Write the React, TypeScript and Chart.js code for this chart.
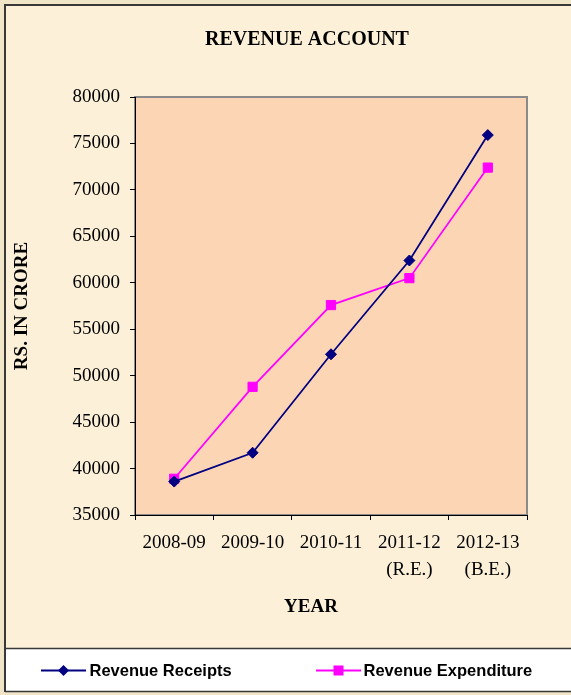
import React, { useEffect, useRef } from 'react';
import { Chart, registerables } from 'chart.js';

Chart.register(...registerables);

// ---- data ----
const years = ['2008-09', '2009-10', '2010-11', '2011-12', '2012-13'];
const yearNotes = ['', '', '', '(R.E.)', '(B.E.)'];
const revenueReceipts = [38600, 41700, 52300, 62400, 75900];
const revenueExpenditure = [38900, 48800, 57600, 60500, 72400];
const yMin = 35000;
const yMax = 80000;
const yStep = 5000;
const chartTitle = 'REVENUE ACCOUNT';
const yTitle = 'RS. IN CRORE';
const xTitle = 'YEAR';
const seriesNames = ['Revenue Receipts', 'Revenue Expenditure'];

const SERIF = '"Liberation Serif", "Times New Roman", serif';
const SANS = '"Liberation Sans", Arial, sans-serif';

const W = 571;
const H = 695;

const decorPlugin = {
  id: 'decor',
  beforeDraw(chart: any) {
    const { ctx, chartArea: a, width } = chart;
    ctx.save();
    ctx.fillStyle = '#F1E5C8';
    ctx.fillRect(0, 0, width, H);
    ctx.fillStyle = '#FCF1D8';
    ctx.fillRect(5, 5, width - 5, 643);
    ctx.fillStyle = '#FFFFFF';
    ctx.fillRect(5, 648, width - 5, 44);
    ctx.strokeStyle = '#383838';
    ctx.lineWidth = 2;
    ctx.beginPath();
    ctx.moveTo(5, 692);
    ctx.lineTo(5, 5);
    ctx.lineTo(width, 5);
    ctx.stroke();
    ctx.lineWidth = 1.5;
    ctx.beginPath();
    ctx.moveTo(5, 648.5);
    ctx.lineTo(width, 648.5);
    ctx.moveTo(5, 691.5);
    ctx.lineTo(width, 691.5);
    ctx.stroke();
    ctx.fillStyle = '#FCD5B4';
    ctx.fillRect(a.left, a.top, a.right - a.left, a.bottom - a.top);
    ctx.strokeStyle = '#8A8A8A';
    ctx.lineWidth = 2;
    ctx.strokeRect(a.left, a.top, a.right - a.left, a.bottom - a.top);
    ctx.fillStyle = '#000';
    ctx.textAlign = 'center';
    ctx.textBaseline = 'middle';
    ctx.font = `bold 20px ${SERIF}`;
    ctx.fillText(chartTitle, 307, 40);
    ctx.font = `bold 19px ${SERIF}`;
    ctx.fillText(xTitle, 311, 607);
    ctx.save();
    ctx.translate(22, 306);
    ctx.rotate(-Math.PI / 2);
    ctx.fillText(yTitle, 0, 0);
    ctx.restore();
    ctx.restore();
  },
  afterDraw(chart: any) {
    const { ctx } = chart;
    const ds = chart.data.datasets;
    const items = [
      { x0: 41, x1: 86, tx: 89.5 },
      { x0: 316, x1: 361, tx: 363.5 },
    ];
    const y = 670.5;
    ctx.save();
    items.forEach((it, i) => {
      const d = ds[i];
      ctx.strokeStyle = d.borderColor;
      ctx.lineWidth = 2;
      ctx.beginPath();
      ctx.moveTo(it.x0, y);
      ctx.lineTo(it.x1, y);
      ctx.stroke();
      const cx = (it.x0 + it.x1) / 2;
      ctx.fillStyle = d.pointBackgroundColor;
      ctx.beginPath();
      if (d.pointStyle === 'rectRot') {
        const r = 5.5;
        ctx.moveTo(cx - r, y);
        ctx.lineTo(cx, y - r);
        ctx.lineTo(cx + r, y);
        ctx.lineTo(cx, y + r);
        ctx.closePath();
      } else {
        ctx.rect(cx - 5, y - 5, 10, 10);
      }
      ctx.fill();
      ctx.fillStyle = '#000';
      ctx.font = `bold 16.5px ${SANS}`;
      ctx.textAlign = 'left';
      ctx.textBaseline = 'middle';
      ctx.fillText(d.label, it.tx, y + 1);
    });
    ctx.restore();
  },
};

export default function App() {
  const ref = useRef<HTMLCanvasElement | null>(null);

  useEffect(() => {
    if (!ref.current) return;
    const labels = years.map((y, i) => (yearNotes[i] ? [y, yearNotes[i]] : [y]));
    const chart = new Chart(ref.current, {
      type: 'line',
      data: {
        labels,
        datasets: [
          {
            label: seriesNames[0],
            data: revenueReceipts,
            borderColor: '#000080',
            backgroundColor: '#000080',
            pointBackgroundColor: '#000080',
            pointBorderColor: '#000080',
            pointStyle: 'rectRot',
            pointRadius: 5.5,
            pointBorderWidth: 1,
            borderWidth: 1.75,
            tension: 0,
          },
          {
            label: seriesNames[1],
            data: revenueExpenditure,
            borderColor: '#FF00FF',
            backgroundColor: '#FF00FF',
            pointBackgroundColor: '#FF00FF',
            pointBorderColor: '#FF00FF',
            pointStyle: 'rect',
            pointRadius: 6.5,
            pointBorderWidth: 1,
            borderWidth: 1.75,
            tension: 0,
          },
        ],
      },
      options: {
        responsive: false,
        animation: false,
        devicePixelRatio: 1,
        layout: { padding: { left: 0, right: 44, top: 97, bottom: 70 } },
        plugins: {
          legend: { display: false },
          tooltip: { enabled: false },
          title: { display: false },
        },
        scales: {
          x: {
            type: 'category',
            offset: true,
            grid: { offset: true, drawOnChartArea: false, color: '#000', tickLength: 5 },
            border: { color: '#000', width: 1 },
            ticks: {
              color: '#000',
              padding: 10,
              maxRotation: 0,
              autoSkip: false,
              font: { family: SERIF, size: 19, lineHeight: 1.4 },
            },
            afterFit: (s: any) => {
              s.height = 110;
            },
          },
          y: {
            min: yMin,
            max: yMax,
            grid: { drawOnChartArea: false, color: '#000', tickLength: 5 },
            border: { color: '#000', width: 1 },
            ticks: {
              stepSize: yStep,
              color: '#000',
              padding: 10,
              font: { family: SERIF, size: 19 },
              callback: (v: any) => String(v),
            },
            afterFit: (s: any) => {
              s.width = 135;
            },
          },
        },
      },
      plugins: [decorPlugin],
    });
    return () => chart.destroy();
  }, []);

  return (
    <div style={{ position: 'absolute', left: 0, top: 0, width: W, height: H }}>
      <canvas ref={ref} width={W} height={H} style={{ width: W, height: H, display: 'block' }} />
    </div>
  );
}
